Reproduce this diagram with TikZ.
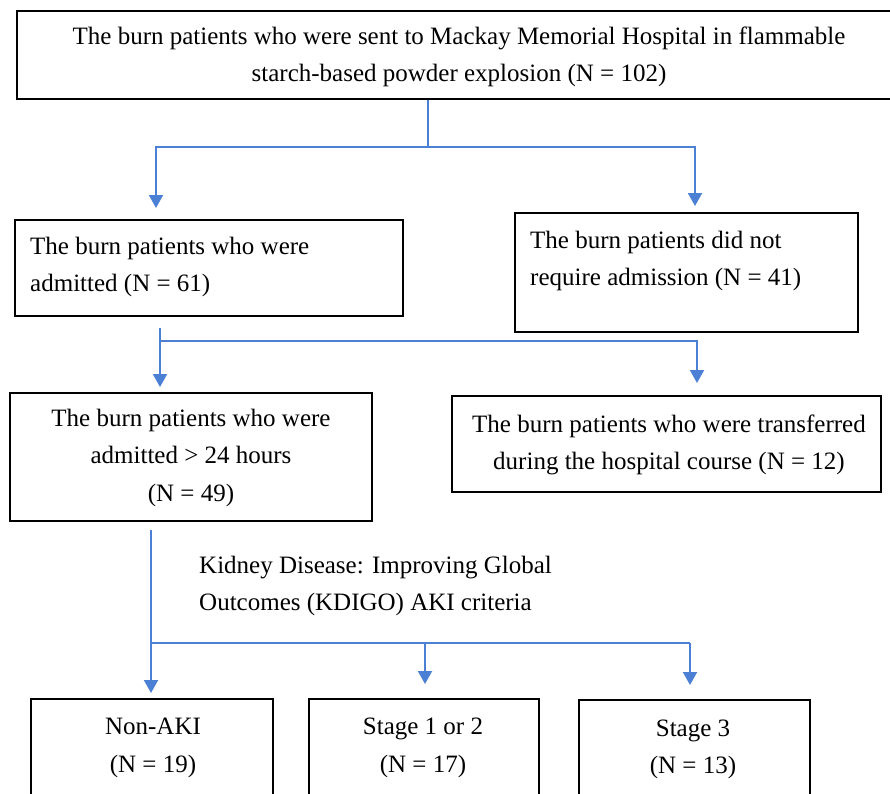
\documentclass[tikz,border=0pt]{standalone}
\usepackage{fontspec}
\setmainfont{Liberation Serif}
\usetikzlibrary{arrows.meta,fit}
\definecolor{flowblue}{RGB}{76,128,212}
\tikzset{
  box/.style={draw=black, line width=2.2pt, inner sep=0pt, fill=none},
  txt/.style={inner sep=0pt, font=\fontsize{25}{37.5}\selectfont},
  conn/.style={draw=flowblue, line width=2pt, line join=miter},
  arr/.style={conn, -{Triangle[width=14pt,length=13pt]}}
}
\newcommand{\boxat}[5]{%
  \path (#2,#3) coordinate (#1nw) (#4,#5) coordinate (#1se);
  \node[box, fit=(#1nw)(#1se)] (#1) {};}
\begin{document}
\begin{tikzpicture}[x=1pt,y=-1pt]
\useasboundingbox (0,0) rectangle (890,793);
% boxes
\boxat{b1}{17}{11}{893}{99}
\boxat{b2}{15}{220}{403}{316}
\boxat{b3}{515}{213}{858}{332}
\boxat{b4}{10}{393}{372}{521}
\boxat{b5}{452}{396}{881}{492}
\boxat{b6}{31}{699}{273}{822}
\boxat{b7}{309}{699}{539}{822}
\boxat{b8}{579}{700}{810}{822}
% texts
\node[txt, align=center] (t1) at (459,57) {The burn patients who were sent to Mackay Memorial Hospital in flammable\\starch-based powder explosion (N = 102)};
\node[txt, align=left, anchor=west] (t2) at (30,267) {The burn patients who were\\admitted (N = 61)};
\node[txt, align=left, anchor=west] (t3) at (530,261) {The burn patients did not\\require admission (N = 41)};
\node[txt, align=center] (t4) at (191,457.5) {The burn patients who were\\admitted > 24 hours\\(N = 49)};
\node[txt, align=center] (t5) at (669,445) {The burn patients who were transferred\\during the hospital course (N = 12)};
\node[txt, align=left, anchor=west] (kd) at (199,586) {Kidney Disease: Improving Global\\Outcomes (KDIGO) AKI criteria};
\node[txt, align=center] (t6) at (153,748) {Non-AKI\\(N = 19)};
\node[txt, align=center] (t7) at (423,748) {Stage 1 or 2\\(N = 17)};
\node[txt, align=center] (t8) at (693,749.5) {Stage 3\\(N = 13)};
% connector coordinates
\coordinate (j1) at (428,147);
\coordinate (j1L) at (156,147);
\coordinate (j1R) at (695,147);
\coordinate (a1L) at (156,208);
\coordinate (a1R) at (695,206);
\coordinate (s2) at (160,328);
\coordinate (j2L) at (160,341);
\coordinate (j2R) at (697,341);
\coordinate (a2L) at (160,387);
\coordinate (a2R) at (697,383);
\coordinate (s3) at (151,530);
\coordinate (j3L) at (151,643);
\coordinate (j3M) at (425,643);
\coordinate (j3R) at (690,643);
\coordinate (a3L) at (151,693);
\coordinate (a3M) at (425,684);
\coordinate (a3R) at (690,685);
% level 1
\draw[conn] (b1.south -| j1) -- (j1);
\draw[arr] (j1) -- (j1L) -- (a1L);
\draw[arr] (j1) -- (j1R) -- (a1R);
% level 2
\draw[arr] (s2) -- (a2L);
\draw[arr] (j2L) -- (j2R) -- (a2R);
% level 3
\draw[arr] (s3) -- (a3L);
\draw[conn] (j3L) -- (j3R);
\draw[arr] (j3M) -- (a3M);
\draw[arr] (j3R) -- (a3R);
\end{tikzpicture}
\end{document}
